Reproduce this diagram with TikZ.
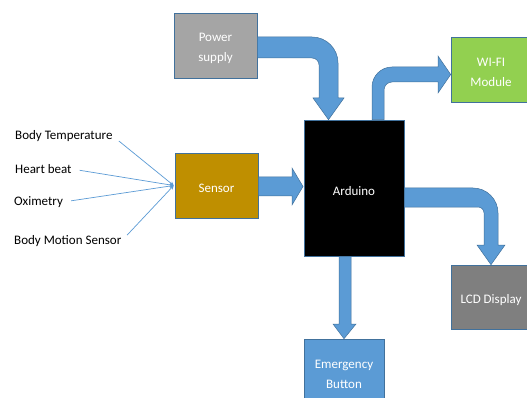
\documentclass[tikz,border=0pt]{standalone}
\usepackage{fontspec}
\setmainfont{Carlito}
\usetikzlibrary{arrows.meta,calc}
\definecolor{arrowblue}{HTML}{5B9BD5}
\definecolor{edgeblue}{HTML}{41719C}
\definecolor{powergray}{HTML}{A5A5A5}
\definecolor{sensorgold}{HTML}{BF8F00}
\definecolor{wifigreen}{HTML}{92D050}
\definecolor{lcdgray}{HTML}{7F7F7F}
\newcommand{\boxstrut}{\rule{0pt}{14.8pt}}
\begin{document}
\begin{tikzpicture}[x=1pt,y=-1pt,
  box/.style={draw=edgeblue, line width=0.6pt, inner sep=0pt, text=white,
    font=\fontsize{13}{20}\selectfont, align=center},
  blockarrow/.style={fill=arrowblue, draw=edgeblue, line width=0.5pt, line join=miter},
  lbl/.style={anchor=west, inner sep=0pt, font=\fontsize{13}{15}\selectfont},
  feed/.style={draw=arrowblue, line width=0.7pt, shorten <=8pt, -{Stealth[length=4pt,width=4pt]}}]
\useasboundingbox (0,0) rectangle (527,398);
\fill[white] (0,0) rectangle (527,398);

% blocks
\node[box, fill=powergray, minimum width=83pt, minimum height=65pt] (power) at (215.5,45.5) {\boxstrut Power\\supply};
\node[box, fill=black, minimum width=100pt, minimum height=136pt] (arduino) at (354,188) {\boxstrut Arduino};
\node[box, fill=sensorgold, minimum width=83pt, minimum height=65pt] (sensor) at (216.5,185.5) {\boxstrut Sensor};
\node[box, fill=wifigreen, minimum width=80pt, minimum height=65pt] (wifi) at (491,69.5) {\boxstrut WI-FI\\Module};
\node[box, fill=lcdgray, minimum width=80pt, minimum height=64pt] (lcd) at (491,297) {\boxstrut LCD Display};
\node[box, fill=arrowblue, minimum width=80pt, minimum height=65pt] (emerg) at (344,371.5) {\boxstrut Emergency\\Button};

% inputs
\node[lbl] (bt) at (15,136) {Body Temperature};
\node[lbl] (hb) at (15,169) {Heart beat};
\node[lbl] (ox) at (14,202) {Oximetry};
\node[lbl] (bms) at (14,241) {Body Motion Sensor};
\coordinate (hub) at ($(sensor.west)+(-1,0)$);
\draw[feed] (bt.east) -- (hub);
\draw[feed] (hb.east) -- (hub);
\draw[feed] (ox.east) -- (hub);
\draw[feed] (bms.east) -- (hub);

% block arrows
\draw[blockarrow] ($(power.east)+(0,-8.5)$) -- (312,37)
  .. controls (326.4,37) and (338,48.6) .. (338,63) -- (338,98) -- (344,98)
  -- (arduino.north -| 328.5,0) -- (313,98) -- (319,98) -- (319,65)
  .. controls (319,61.1) and (315.9,58) .. (312,58) -- ($(power.east)+(0,12.5)$) -- cycle;

\draw[blockarrow] ($(sensor.east)+(0,-8.5)$) -- (292,177) -- (292,168) -- (303,186.5)
  -- (292,205) -- (292,196) -- ($(sensor.east)+(0,10.5)$) -- cycle;

\draw[blockarrow] (arduino.north -| 372,0) -- (372,87) .. controls (372,76) and (381,67) .. (392,67)
  -- (438,67) -- (438,56) -- (wifi.west |- 0,74.5) -- (438,93) -- (438,82) -- (392,82)
  .. controls (387.6,82) and (384,85.6) .. (384,90) -- (arduino.north -| 384,0) -- cycle;

\draw[blockarrow] (arduino.east |- 0,188) -- (473,188) .. controls (486.8,188) and (498,199.2) .. (498,213)
  -- (498,245) -- (505,245) -- (lcd.north) -- (477,245) -- (484,245) -- (484,213)
  .. controls (484,209.7) and (481.3,207) .. (478,207) -- (arduino.east |- 0,207) -- cycle;

\draw[blockarrow] (arduino.south -| 339,0) -- (arduino.south -| 351,0) -- (351,324) -- (356,324)
  -- (emerg.north) -- (333,324) -- (339,324) -- cycle;
\end{tikzpicture}
\end{document}
